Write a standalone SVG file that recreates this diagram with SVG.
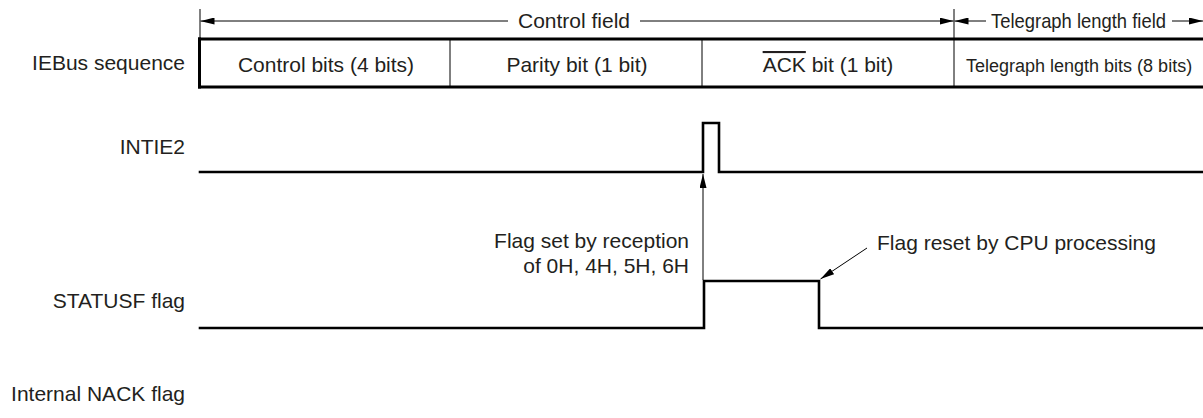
<svg xmlns="http://www.w3.org/2000/svg" width="1203" height="418" viewBox="0 0 1203 418">
<style>
text{font-family:"Liberation Sans",Arial,sans-serif;font-size:21px;fill:#231f20}
.r{text-anchor:end}
.m{text-anchor:middle}
.thin{stroke:#000;stroke-width:1;fill:none}
.thick{stroke:#000;stroke-width:3;fill:none}
.wave{stroke:#000;stroke-width:2.6;fill:none;stroke-linejoin:miter;stroke-linecap:square}
</style>
<defs>
<marker id="ah" viewBox="0 -3.5 14 7" refX="14" refY="0" markerWidth="14" markerHeight="7" markerUnits="userSpaceOnUse" orient="auto">
<path d="M0,-3.5 L14,0 L0,3.5 z" fill="#000"/>
</marker>
</defs>
<g id="dimensions">
<line class="thin" x1="200" y1="9" x2="200" y2="38"/>
<line class="thin" x1="954" y1="9" x2="954" y2="38"/>
<line class="thin" x1="508" y1="21" x2="200.5" y2="21" marker-end="url(#ah)"/>
<line class="thin" x1="640" y1="21" x2="953.5" y2="21" marker-end="url(#ah)"/>
<text x="574" y="28" class="m">Control field</text>
<line class="thin" x1="986" y1="21" x2="954.5" y2="21" marker-end="url(#ah)"/>
<line class="thin" x1="1172" y1="21" x2="1203" y2="21" marker-end="url(#ah)"/>
<text x="991" y="28" textLength="175" lengthAdjust="spacingAndGlyphs">Telegraph length field</text>
</g>
<g id="iebus">
<text x="185" y="70" class="r">IEBus sequence</text>
<line class="thick" x1="198" y1="39" x2="1203" y2="39"/>
<line class="thick" x1="198" y1="87" x2="1203" y2="87"/>
<line class="thick" x1="199.5" y1="37.5" x2="199.5" y2="88.5"/>
<line class="thin" x1="450" y1="39" x2="450" y2="87"/>
<line class="thin" x1="702" y1="39" x2="702" y2="87"/>
<line class="thin" x1="954" y1="38" x2="954" y2="87"/>
<text x="326" y="72" class="m">Control bits (4 bits)</text>
<text x="577" y="72" class="m">Parity bit (1 bit)</text>
<text x="828" y="72" class="m"><tspan style="text-decoration:overline">ACK</tspan> bit (1 bit)</text>
<text x="966" y="72" style="font-size:18px">Telegraph length bits (8 bits)</text>
</g>
<g id="intie2">
<text x="185" y="154" class="r">INTIE2</text>
<polyline class="wave" points="200,172 703,172 703,123 719,123 719,172 1203,172"/>
</g>
<g id="statusf">
<text x="185" y="308" class="r">STATUSF flag</text>
<polyline class="wave" points="200,328 704,328 704,281 819,281 819,328 1203,328"/>
</g>
<g id="nack">
<text x="185" y="401" class="r">Internal NACK flag</text>
</g>
<g id="connectors">
<line class="thin" x1="703" y1="280" x2="703" y2="174" marker-end="url(#ah)"/>
<line class="thin" x1="867" y1="248" x2="820.5" y2="279" marker-end="url(#ah)"/>
</g>
<g id="annotations">
<text x="689" y="248" class="r">Flag set by reception</text>
<text x="689" y="273" class="r">of 0H, 4H, 5H, 6H</text>
<text x="877" y="250">Flag reset by CPU processing</text>
</g>
</svg>
